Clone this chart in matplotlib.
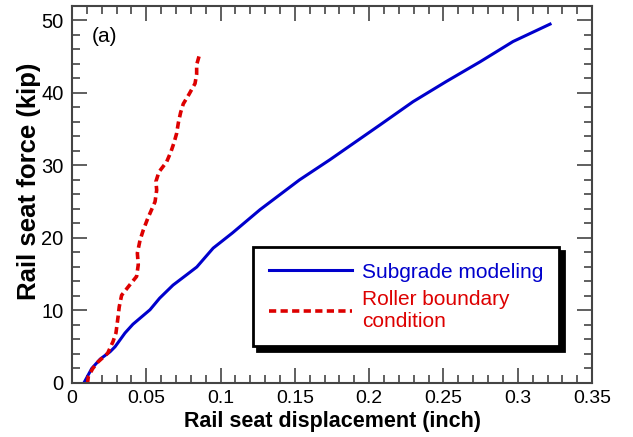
import numpy as np
import matplotlib.pyplot as plt
from matplotlib.ticker import MultipleLocator

plt.rcParams['font.family'] = ['Liberation Sans', 'DejaVu Sans']

# Subgrade modeling (blue solid)
sub_x = [0.008, 0.0133, 0.019, 0.0256, 0.029, 0.0357, 0.041, 0.0525, 0.059, 0.068,
         0.077, 0.084, 0.095, 0.108, 0.1265, 0.153, 0.1736, 0.2073, 0.2295, 0.252,
         0.2746, 0.2968, 0.3217]
sub_y = [0.0, 2.0, 3.3, 4.3, 5.0, 6.9, 8.1, 10.1, 11.7, 13.5,
         14.9, 16.0, 18.6, 20.7, 23.9, 28.0, 30.8, 35.6, 38.8, 41.6,
         44.3, 47.1, 49.5]

# Roller boundary condition (red dotted)
rol_x = [0.0105, 0.011, 0.014, 0.0175, 0.024, 0.0276, 0.0296, 0.031, 0.0318, 0.0334,
         0.038, 0.0435, 0.0446, 0.044, 0.0458, 0.048, 0.051, 0.0559, 0.057, 0.0565,
         0.0585, 0.0637, 0.0666, 0.0686, 0.0704, 0.0716, 0.0731, 0.0749, 0.0787,
         0.0828, 0.0839, 0.0839, 0.0857]
rol_y = [0.0, 0.9, 2.0, 2.9, 4.1, 5.7, 6.9, 9.1, 10.5, 12.1,
         13.3, 14.7, 16.3, 17.9, 19.7, 21.1, 22.7, 25.0, 26.6, 27.8,
         29.1, 30.5, 31.9, 33.1, 34.4, 35.9, 37.3, 38.5, 39.8,
         41.3, 42.6, 43.9, 45.2]

x_ticks = [0, 0.05, 0.1, 0.15, 0.2, 0.25, 0.3, 0.35]
x_labels = ['0', '0.05', '0.1', '0.15', '0.2', '0.25', '0.3', '0.35']

fig = plt.figure(figsize=(6.33, 4.37), dpi=100)
ax = fig.add_axes([0.1137, 0.1236, 0.8217, 0.8627])

ax.plot(sub_x, sub_y, color='#0000cc', lw=2.2, label='Subgrade modeling')
ax.plot(rol_x, rol_y, color='#dd0000', lw=2.6, linestyle=(0, (2, 1.2)),
        label='Roller boundary\ncondition')

ax.set_xlim(0, 0.35)
ax.set_ylim(0, 52)
ax.set_xticks(x_ticks)
ax.set_xticklabels(x_labels)
ax.xaxis.set_minor_locator(MultipleLocator(0.01))
ax.yaxis.set_major_locator(MultipleLocator(10))
ax.yaxis.set_minor_locator(MultipleLocator(2))

ax.tick_params(which='both', direction='in', top=True, right=True,
               color='#444444', width=1.2)
ax.tick_params(which='major', length=11)
ax.tick_params(which='minor', length=6)
ax.tick_params(axis='x', labelsize=14, pad=5)
ax.tick_params(axis='y', labelsize=14.5, pad=6)
for s in ax.spines.values():
    s.set_color('#444444')
    s.set_linewidth(1.5)

ax.set_xlabel('Rail seat displacement (inch)', fontsize=15.5, fontweight='bold', labelpad=3)
ax.set_ylabel('Rail seat force (kip)', fontsize=18.5, fontweight='bold')
ax.yaxis.set_label_coords(-0.06, 0.536)

ax.text(0.038, 0.92, '(a)', transform=ax.transAxes, fontsize=15, va='center')

leg = ax.legend(loc='upper left', bbox_to_anchor=(0.348, 0.361),
                borderaxespad=0, fontsize=15, labelcolor='linecolor',
                frameon=True, fancybox=False, handlelength=4.0,
                handletextpad=0.5, borderpad=0.75, labelspacing=0.4,
                shadow={'color': 'black', 'alpha': 1, 'ox': 3, 'oy': -3})
leg.get_frame().set_edgecolor('black')
leg.get_frame().set_linewidth(2)

fig.savefig('out.png', dpi=100)
